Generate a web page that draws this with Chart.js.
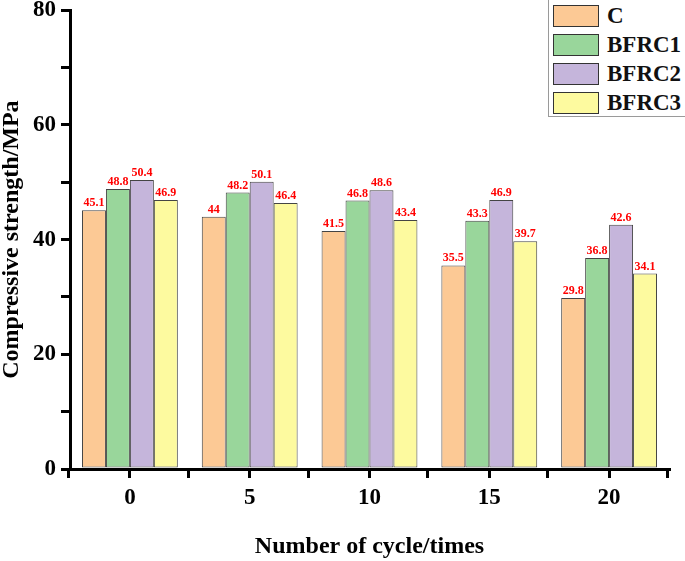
<!DOCTYPE html>
<html>
<head>
<meta charset="utf-8">
<script src="https://cdn.jsdelivr.net/npm/chart.js@4.4.0/dist/chart.umd.min.js"></script>
<style>
    html, body { margin: 0; padding: 0; background: #fff; }
    #wrap { position: relative; width: 685px; height: 561px; overflow: hidden; }
    #legend {
        position: absolute; left: 548px; top: -2px; width: 150px; height: 119px;
        border: 1px solid #9a9a9a; background: #fff; box-sizing: border-box;
        font-family: "Liberation Serif", "Times New Roman", serif; font-weight: bold; font-size: 23px;
    }
    .item { position: absolute; left: 4px; height: 23px; }
    .swatch { position: absolute; left: 0; top: 0; width: 46px; height: 22px; border: 1px solid #333; box-sizing: border-box; }
    .label { position: absolute; left: 54px; top: -3px; line-height: 28px; color: #111; white-space: nowrap; }
</style>
</head>
<body>
<div id="wrap">
    <canvas id="chart" width="685" height="561"></canvas>
    <div id="legend"></div>
</div>
<script>
// Data
const cycles = ['0', '5', '10', '15', '20'];
const seriesNames = ['C', 'BFRC1', 'BFRC2', 'BFRC3'];
const valuesC = [45.1, 44, 41.5, 35.5, 29.8];
const valuesBFRC1 = [48.8, 48.2, 46.8, 43.3, 36.8];
const valuesBFRC2 = [50.4, 50.1, 48.6, 46.9, 42.6];
const valuesBFRC3 = [46.9, 46.4, 43.4, 39.7, 34.1];
const yTicks = [0, 20, 40, 60, 80];

const colors = ['#fcc995', '#99d69b', '#c5b5db', '#fdfa9f'];
const serif = '"Liberation Serif", "Times New Roman", serif';

// Red value labels above each bar
const valueLabels = {
    id: 'valueLabels',
    afterDatasetsDraw(chart) {
        const ctx = chart.ctx;
        ctx.save();
        ctx.fillStyle = '#ff0000';
        ctx.font = 'bold 12px ' + serif;
        ctx.textAlign = 'center';
        ctx.textBaseline = 'bottom';
        chart.data.datasets.forEach((ds, i) => {
            chart.getDatasetMeta(i).data.forEach((bar, j) => {
                ctx.fillText(String(ds.data[j]), bar.x, bar.y - 1);
            });
        });
        ctx.restore();
    }
};

// Extra x ticks at category boundaries
const boundaryTicks = {
    id: 'boundaryTicks',
    afterDraw(chart) {
        const x = chart.scales.x;
        const ctx = chart.ctx;
        const step = (x.right - x.left) / cycles.length;
        ctx.save();
        ctx.strokeStyle = '#000';
        ctx.lineWidth = 3;
        for (let i = 0; i <= cycles.length; i++) {
            const px = Math.round(x.left + step * i) - 1.5;
            ctx.beginPath();
            ctx.moveTo(px, x.top);
            ctx.lineTo(px, x.top + 9);
            ctx.stroke();
        }
        ctx.restore();
    }
};

const allValues = [valuesC, valuesBFRC1, valuesBFRC2, valuesBFRC3];

const chart = new Chart(document.getElementById('chart'), {
    type: 'bar',
    data: {
        labels: cycles,
        datasets: allValues.map((vals, i) => ({
            label: seriesNames[i],
            data: vals,
            backgroundColor: colors[i],
            borderColor: '#444',
            borderWidth: 1,
            borderSkipped: false,
            categoryPercentage: 0.8,
            barPercentage: 1.0
        }))
    },
    options: {
        responsive: false,
        animation: false,
        layout: { padding: { top: 0, right: 16, left: 0, bottom: 0 } },
        plugins: {
            legend: { display: false },
            tooltip: { enabled: false }
        },
        scales: {
            x: {
                afterFit(scale) { scale.height = 92; },
                border: { display: true, color: '#000', width: 3 },
                grid: { drawOnChartArea: false, drawTicks: true, tickLength: 9, lineWidth: 3, color: '#000', offset: false },
                ticks: { color: '#000', padding: 6, font: { family: serif, size: 23, weight: 'bold' } },
                title: {
                    display: true, text: 'Number of cycle/times', color: '#000',
                    font: { family: serif, size: 24, weight: 'bold' }, padding: { top: 24, bottom: 0 }
                }
            },
            y: {
                min: 0,
                max: 80,
                afterFit(scale) { scale.width = 70; },
                border: { display: true, color: '#000', width: 3 },
                grid: { drawOnChartArea: false, drawTicks: true, tickLength: 9, lineWidth: 3, color: '#000' },
                ticks: {
                    stepSize: 10,
                    color: '#000',
                    padding: 5,
                    font: { family: serif, size: 23, weight: 'bold', lineHeight: 0.45 },
                    callback: v => yTicks.includes(v) ? v : ''
                },
                title: {
                    display: true, text: 'Compressive strength/MPa', color: '#000',
                    font: { family: serif, size: 24, weight: 'bold', lineHeight: 1 }, padding: { top: 0, bottom: 0 }
                }
            }
        }
    },
    plugins: [valueLabels, boundaryTicks]
});

// HTML legend
const legend = document.getElementById('legend');
seriesNames.forEach((name, i) => {
    const item = document.createElement('div');
    item.className = 'item';
    item.style.top = (6 + i * 29) + 'px';
    item.innerHTML = '<div class="swatch" style="background:' + colors[i] + '"></div><div class="label">' + name + '</div>';
    legend.appendChild(item);
});
</script>
</body>
</html>
